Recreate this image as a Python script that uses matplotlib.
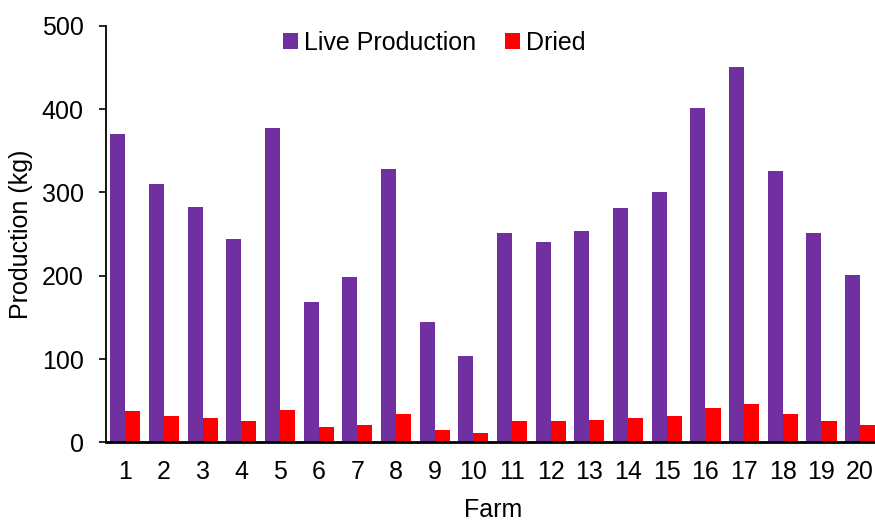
import numpy as np
import matplotlib
matplotlib.use("Agg")
import matplotlib.pyplot as plt
from matplotlib.patches import Patch

plt.rcParams['font.family'] = ['Liberation Sans', 'DejaVu Sans']

farms = [str(i) for i in range(1, 21)]
live_production = [370, 310, 283, 244, 377, 169, 198, 328, 144, 104,
                   251, 241, 254, 281, 301, 401, 451, 326, 251, 201]
dried = [38, 32, 29, 25, 39, 18, 21, 34, 15, 11.5,
         26, 25, 27, 29, 31, 41, 46, 34, 26, 21]

purple = '#7030A0'
red = '#FF0000'
fs = 18

fig = plt.figure(figsize=(8.75, 5.21), dpi=100)
ax = fig.add_axes([0.1211, 0.151, 0.884, 0.7997])

x = np.arange(1, len(farms) + 1)
w = 0.39
ax.bar(x - w / 2, live_production, width=w, color=purple, label='Live Production')
ax.bar(x + w / 2, dried, width=w, color=red, label='Dried')

ax.set_xlim(0.5, len(farms) + 0.5)
ax.set_ylim(0, 500)
ax.set_yticks([0, 100, 200, 300, 400, 500])
ax.set_xticks(x)
ax.set_xticklabels(farms)

ax.tick_params(axis='y', direction='out', length=5, width=1.2, labelsize=fs, pad=11)
ax.tick_params(axis='x', length=0, labelsize=fs, pad=13)

for side in ('top', 'right'):
    ax.spines[side].set_visible(False)
ax.spines['left'].set_linewidth(1.3)
ax.spines['bottom'].set_linewidth(2.0)

ax.set_xlabel('Farm', fontsize=fs, labelpad=10)
ax.set_ylabel('Production (kg)', fontsize=fs, labelpad=6)

handles = [Patch(facecolor=purple, label='Live Production'),
           Patch(facecolor=red, label='Dried')]
fig.legend(handles=handles, loc='center left',
           bbox_to_anchor=(283 / 875, 1 - 43 / 521), ncol=2, frameon=False,
           fontsize=fs, handlelength=0.6, handleheight=0.6,
           handletextpad=0.25, columnspacing=1.15, borderpad=0, borderaxespad=0)

fig.savefig('out.png', dpi=100)
